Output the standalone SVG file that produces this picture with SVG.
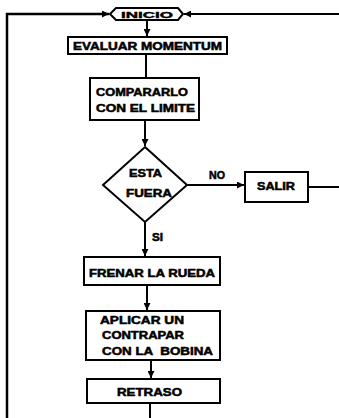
<svg xmlns="http://www.w3.org/2000/svg" width="339" height="418" viewBox="0 0 339 418">
<defs>
<marker id="ah" viewBox="0 0 10 10" refX="10" refY="5" markerWidth="7" markerHeight="7" markerUnits="userSpaceOnUse" orient="auto">
<path d="M0,0 L10,5 L0,10 Z" fill="#000"/>
</marker>
</defs>
<style>
.box{fill:#fff;stroke:#000;stroke-width:2}
.ln{fill:none;stroke:#000;stroke-width:2}
.t{font-family:"Liberation Sans",Arial,sans-serif;font-weight:bold;font-size:10.5px;fill:#000;stroke:#000;stroke-width:0.5;dominant-baseline:central;white-space:pre}
</style>
<rect width="339" height="418" fill="#fff"/>
<g id="connectors">
<path class="ln" d="M7,418 V14 H109" marker-end="url(#ah)" style="stroke-width:2.5"/>
<path class="ln" d="M339,14 H184" marker-end="url(#ah)"/>
<path class="ln" d="M147,19 V36" marker-end="url(#ah)"/>
<path class="ln" d="M146,55 V77"/>
<path class="ln" d="M145,120 V146" marker-end="url(#ah)"/>
<path class="ln" d="M187,185 H244" marker-end="url(#ah)"/>
<path class="ln" d="M308,187 H339"/>
<path class="ln" d="M145,222 V256" marker-end="url(#ah)"/>
<path class="ln" d="M147,285 V310" marker-end="url(#ah)"/>
<path class="ln" d="M151,360 V378" marker-end="url(#ah)"/>
<path class="ln" d="M150,403 V418"/>
<text class="t" x="209" y="175" textLength="16" lengthAdjust="spacingAndGlyphs">NO</text>
<text class="t" x="152" y="237" textLength="11" lengthAdjust="spacingAndGlyphs">SI</text>
</g>
<g id="inicio">
<polygon class="box" points="110,14 116,8 178,8 183,14 178,20 116,20"/>
<text class="t" x="147" y="14.5" text-anchor="middle" textLength="52" lengthAdjust="spacingAndGlyphs" style="font-size:9px;stroke-width:0.4">INICIO</text>
</g>
<g id="evaluar">
<rect class="box" x="68" y="37" width="159" height="17"/>
<text class="t" x="73" y="46" textLength="149" lengthAdjust="spacingAndGlyphs">EVALUAR MOMENTUM</text>
</g>
<g id="comparar">
<rect class="box" x="90" y="78" width="109" height="42"/>
<text class="t" x="96" y="92" textLength="92" lengthAdjust="spacingAndGlyphs">COMPARARLO</text>
<text class="t" x="96" y="108" textLength="99" lengthAdjust="spacingAndGlyphs">CON EL LIMITE</text>
</g>
<g id="decision">
<polygon class="box" points="145,147 187,185 145,222 103,185"/>
<text class="t" x="129" y="173" textLength="33" lengthAdjust="spacingAndGlyphs">ESTA</text>
<text class="t" x="126" y="193" textLength="46" lengthAdjust="spacingAndGlyphs">FUERA</text>
</g>
<g id="salir">
<rect class="box" x="245" y="172" width="63" height="30"/>
<text class="t" x="257" y="186" textLength="38" lengthAdjust="spacingAndGlyphs">SALIR</text>
</g>
<g id="frenar">
<rect class="box" x="84" y="257" width="136" height="28"/>
<text class="t" x="89" y="273" textLength="126" lengthAdjust="spacingAndGlyphs">FRENAR LA RUEDA</text>
</g>
<g id="aplicar">
<rect class="box" x="86" y="311" width="134" height="49"/>
<text class="t" x="100" y="320" textLength="84" lengthAdjust="spacingAndGlyphs">APLICAR UN</text>
<text class="t" x="102" y="335" textLength="82" lengthAdjust="spacingAndGlyphs">CONTRAPAR</text>
<text class="t" x="102" y="351" textLength="111" lengthAdjust="spacingAndGlyphs" xml:space="preserve">CON LA  BOBINA</text>
</g>
<g id="retraso">
<rect class="box" x="87" y="379" width="133" height="24"/>
<text class="t" x="117" y="392" textLength="65" lengthAdjust="spacingAndGlyphs">RETRASO</text>
</g>
</svg>
